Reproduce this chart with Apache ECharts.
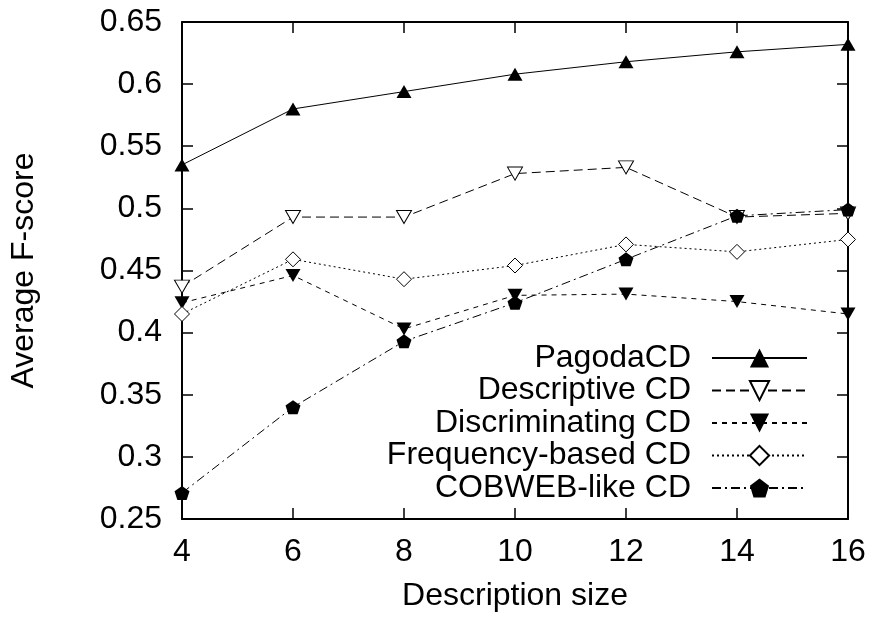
<!DOCTYPE html>
<html>
<head>
<meta charset="utf-8">
<script src="https://cdn.jsdelivr.net/npm/echarts@6/dist/echarts.min.js"></script>
<style>
  html, body { margin: 0; padding: 0; background: #fff; }
  #chart { width: 876px; height: 617px; }
</style>
</head>
<body>
<div id="chart"></div>
<script>
// description sizes (x)
const sizes = [4, 6, 8, 10, 12, 14, 16]
const yTicks = [0.25, 0.3, 0.35, 0.4, 0.45, 0.5, 0.55, 0.6, 0.65]

const pagoda = [0.535, 0.580, 0.594, 0.608, 0.618, 0.626, 0.632]
const descriptive = [0.437, 0.493, 0.493, 0.528, 0.533, 0.493, 0.496]
const discriminating = [0.424, 0.446, 0.403, 0.430, 0.431, 0.425, 0.415]
const frequency = [0.415, 0.459, 0.443, 0.454, 0.471, 0.465, 0.475]
const cobweb = [0.271, 0.340, 0.393, 0.424, 0.459, 0.494, 0.499]

const pentagon = 'path://M0,-10 L9.51,-3.09 L5.88,8.09 L-5.88,8.09 L-9.51,-3.09 Z'
const font = 'Liberation Sans'
const fs = 32

const pairs = vals => sizes.map((x, i) => [x, vals[i]])

const chart = echarts.init(document.getElementById('chart'))

const frameAxis = {
  axisLine: { show: true, lineStyle: { color: '#000', width: 2 } },
  axisTick: { show: true, inside: true, length: 11, lineStyle: { color: '#000', width: 1.5 } },
  splitLine: { show: false },
}

function makeSeries(name, vals, opts) {
  return Object.assign({
    name: name,
    type: 'line',
    data: pairs(vals),
    symbolSize: 14,
    showSymbol: true,
    lineStyle: { color: '#000', width: 1 },
    itemStyle: { color: '#000' },
    emphasis: { disabled: true },
    z: 3,
  }, opts)
}

const option = {
  animation: false,
  backgroundColor: '#fff',
  textStyle: { fontFamily: font },
  grid: { left: 177, right: 28, top: 22, bottom: 98 },
  legend: {
    orient: 'vertical',
    right: 68,
    top: 342,
    padding: 0,
    align: 'right',
    itemWidth: 95,
    itemHeight: 24,
    itemGap: 0.5,
    selectedMode: false,
    textStyle: { fontFamily: font, fontSize: fs, color: '#000', lineHeight: 31, padding: [0, 16, 0, 0] },
    data: ['PagodaCD', 'Descriptive CD', 'Discriminating CD', 'Frequency-based CD', 'COBWEB-like CD'],
  },
  xAxis: [
    Object.assign({
      type: 'value', min: 4, max: 16, interval: 2,
      name: 'Description size', nameLocation: 'middle', nameGap: 61,
      nameTextStyle: { fontFamily: font, fontSize: fs, color: '#000' },
      axisLabel: { fontFamily: font, fontSize: fs, color: '#000', margin: 17 },
    }, frameAxis),
    Object.assign({
      type: 'value', min: 4, max: 16, interval: 2, position: 'top',
      axisLabel: { show: false },
    }, frameAxis),
  ],
  yAxis: [
    Object.assign({
      type: 'value', min: yTicks[0], max: yTicks[yTicks.length - 1], interval: 0.05,
      name: 'Average F-score', nameLocation: 'middle', nameGap: 142, nameRotate: 90,
      nameTextStyle: { fontFamily: font, fontSize: fs, color: '#000' },
      axisLabel: { fontFamily: font, fontSize: fs, color: '#000', margin: 20,
        formatter: v => String(+v.toFixed(2)) },
    }, frameAxis),
    Object.assign({
      type: 'value', min: yTicks[0], max: yTicks[yTicks.length - 1], interval: 0.05, position: 'right',
      axisLabel: { show: false },
    }, frameAxis),
  ],
  series: [
    makeSeries('PagodaCD', pagoda, {
      symbol: 'triangle', symbolSize: [15, 13],
    }),
    makeSeries('Descriptive CD', descriptive, {
      symbol: 'triangle', symbolSize: [15, 13], symbolRotate: 180,
      lineStyle: { color: '#000', width: 1, type: [9, 5] },
      itemStyle: { color: '#fff', borderColor: '#000', borderWidth: 1 },
    }),
    makeSeries('Discriminating CD', discriminating, {
      symbol: 'triangle', symbolSize: [15, 13], symbolRotate: 180,
      lineStyle: { color: '#000', width: 1, type: [5, 5] },
    }),
    makeSeries('Frequency-based CD', frequency, {
      symbol: 'diamond', symbolSize: [15, 15],
      lineStyle: { color: '#000', width: 1, type: [2, 3] },
      itemStyle: { color: '#fff', borderColor: '#000', borderWidth: 1 },
    }),
    makeSeries('COBWEB-like CD', cobweb, {
      symbol: pentagon, symbolSize: [15, 14],
      lineStyle: { color: '#000', width: 1, type: [9, 4, 2, 4] },
    }),
  ],
}

chart.setOption(option)
</script>
</body>
</html>
